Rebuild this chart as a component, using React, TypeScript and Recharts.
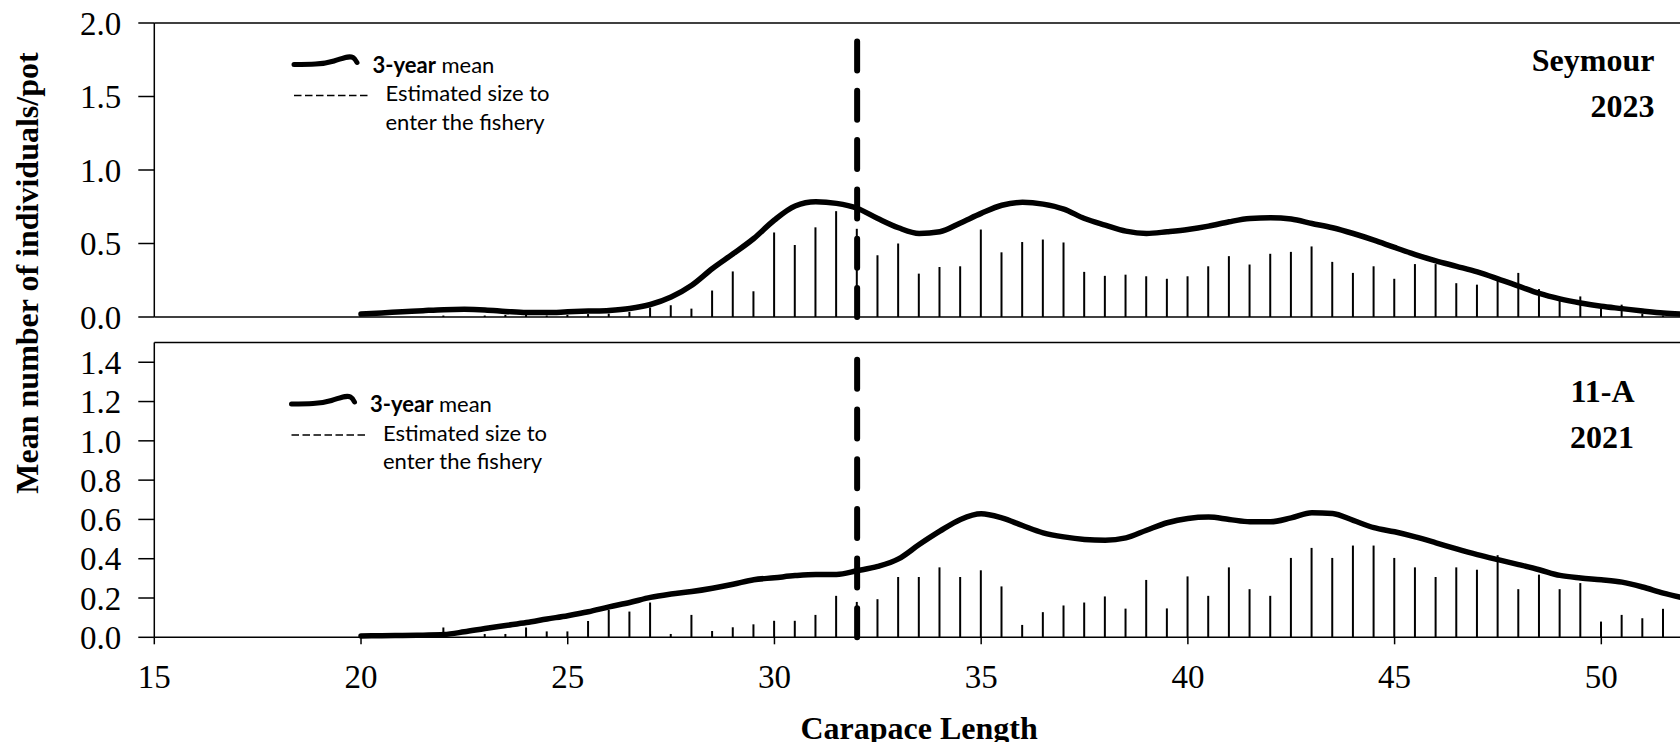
import {
  ComposedChart,
  Bar,
  Line,
  XAxis,
  YAxis,
  ReferenceLine,
} from "recharts";

// carapace length classes (mm), every 0.5
const lengths = [
  20, 20.5, 21, 21.5, 22, 22.5, 23, 23.5, 24, 24.5,
  25, 25.5, 26, 26.5, 27, 27.5, 28, 28.5, 29, 29.5,
  30, 30.5, 31, 31.5, 32, 32.5, 33, 33.5, 34, 34.5,
  35, 35.5, 36, 36.5, 37, 37.5, 38, 38.5, 39, 39.5,
  40, 40.5, 41, 41.5, 42, 42.5, 43, 43.5, 44, 44.5,
  45, 45.5, 46, 46.5, 47, 47.5, 48, 48.5, 49, 49.5,
  50, 50.5, 51, 51.5, 52,
];

const seymourCounts = [
  0, 0, 0, 0, 0.01, 0, 0.01, 0.015, 0.015, 0.01,
  0.015, 0.02, 0.023, 0.034, 0.064, 0.08, 0.057, 0.18, 0.31, 0.175,
  0.575, 0.49, 0.61, 0.72, 0.6, 0.42, 0.5, 0.295, 0.34, 0.345,
  0.595, 0.44, 0.51, 0.527, 0.507, 0.307, 0.28, 0.288, 0.277, 0.26,
  0.277, 0.345, 0.414, 0.357, 0.43, 0.443, 0.48, 0.375, 0.3, 0.345,
  0.26, 0.36, 0.36, 0.23, 0.22, 0.25, 0.3, 0.19, 0.12, 0.14,
  0.057, 0.084, 0.023, 0.01, 0,
];

const seymourMean = [
  0.02, 0.028, 0.035, 0.043, 0.05, 0.052, 0.048, 0.038, 0.03, 0.03,
  0.035, 0.04, 0.045, 0.058, 0.085, 0.136, 0.216, 0.33, 0.43, 0.534,
  0.66, 0.755, 0.784, 0.773, 0.74, 0.67, 0.607, 0.568, 0.58, 0.64,
  0.705, 0.76, 0.78, 0.768, 0.734, 0.67, 0.625, 0.584, 0.568, 0.58,
  0.595, 0.618, 0.648, 0.67, 0.675, 0.666, 0.636, 0.607, 0.568, 0.523,
  0.473, 0.425, 0.382, 0.345, 0.307, 0.26, 0.21, 0.16, 0.123, 0.095,
  0.073, 0.057, 0.041, 0.027, 0.02,
];

const areaCounts = [
  0, 0, 0, 0, 0.05, 0, 0.017, 0.017, 0.05, 0.03,
  0.03, 0.083, 0.14, 0.131, 0.177, 0.017, 0.114, 0.032, 0.051, 0.066,
  0.084, 0.084, 0.114, 0.211, 0.18, 0.194, 0.307, 0.307, 0.356, 0.307,
  0.341, 0.259, 0.063, 0.128, 0.162, 0.177, 0.208, 0.146, 0.292, 0.147,
  0.31, 0.211, 0.356, 0.245, 0.211, 0.404, 0.455, 0.404, 0.467, 0.467,
  0.404, 0.356, 0.307, 0.356, 0.344, 0.418, 0.245, 0.319, 0.245, 0.276,
  0.08, 0.114, 0.097, 0.145, 0.1,
];

const areaMean = [
  0.007, 0.008, 0.009, 0.011, 0.014, 0.028, 0.045, 0.06, 0.075, 0.093,
  0.11, 0.13, 0.155, 0.177, 0.203, 0.22, 0.233, 0.25, 0.27, 0.293,
  0.303, 0.314, 0.32, 0.32, 0.339, 0.361, 0.399, 0.472, 0.54, 0.6,
  0.629, 0.608, 0.569, 0.532, 0.511, 0.498, 0.494, 0.506, 0.545, 0.583,
  0.605, 0.612, 0.6, 0.588, 0.588, 0.608, 0.634, 0.63, 0.595, 0.558,
  0.537, 0.511, 0.481, 0.45, 0.421, 0.395, 0.37, 0.344, 0.315, 0.302,
  0.293, 0.281, 0.256, 0.225, 0.2,
];

const xTicks = [15, 20, 25, 30, 35, 40, 45, 50];
const seymourTicks = [0, 0.5, 1, 1.5, 2];
const areaTicks = [0, 0.2, 0.4, 0.6, 0.8, 1, 1.2, 1.4];
const fisherySize = 32;

const SERIF = '"Liberation Serif", "Times New Roman", serif';
const SANS = 'Lato, "Liberation Sans", sans-serif';

const seymourData = lengths.map((x, i) => ({ x, n: seymourCounts[i], mean: seymourMean[i] }));
const areaData = lengths.map((x, i) => ({ x, n: areaCounts[i], mean: areaMean[i] }));

const CHART_W = 1684;
const AXIS_W = 154.3;

const tickStyle = { fill: "#000", fontSize: 33, fontFamily: SERIF };

function Panel({
  data,
  height,
  top,
  yMax,
  yTicks,
  xHeight,
  showXLabels,
  dashTop,
  dashArray,
}: {
  data: any[];
  height: number;
  top: number;
  yMax: number;
  yTicks: number[];
  xHeight: number;
  showXLabels: boolean;
  dashTop: number;
  dashArray: string;
}) {
  return (
    <ComposedChart
      width={CHART_W}
      height={height}
      data={data}
      margin={{ top, right: 0, bottom: 0, left: 0 }}
    >
      <XAxis
        dataKey="x"
        type="number"
        domain={[15, 52]}
        ticks={xTicks}
        interval={0}
        height={xHeight}
        tickSize={7}
        tickMargin={20}
        tick={showXLabels ? tickStyle : false}
        axisLine={{ stroke: "#000", strokeWidth: 1.5 }}
        tickLine={{ stroke: "#000", strokeWidth: 1.5 }}
        label={
          showXLabels
            ? {
                value: "Carapace Length",
                position: "insideBottom",
                offset: 3,
                fill: "#000",
                fontSize: 32,
                fontWeight: "bold",
                fontFamily: SERIF,
              }
            : undefined
        }
      />
      <YAxis
        type="number"
        domain={[0, yMax]}
        ticks={yTicks}
        interval={0}
        width={AXIS_W}
        tickSize={16}
        tickMargin={17}
        tick={tickStyle}
        tickFormatter={(v: number) => v.toFixed(1)}
        axisLine={{ stroke: "#000", strokeWidth: 1.5 }}
        tickLine={{ stroke: "#000", strokeWidth: 1.5 }}
      />
      <ReferenceLine y={yMax} stroke="#000" strokeWidth={1.5} />
      <Bar dataKey="n" fill="#000" barSize={2} isAnimationActive={false} />
      <Line
        type="monotone"
        dataKey="mean"
        stroke="#000"
        strokeWidth={5.5}
        strokeLinecap="round"
        strokeLinejoin="round"
        dot={false}
        activeDot={false}
        isAnimationActive={false}
      />
      <ReferenceLine
        segment={[
          { x: fisherySize, y: 0 },
          { x: fisherySize, y: dashTop },
        ]}
        stroke="#000"
        strokeWidth={6}
        strokeDasharray={dashArray}
        strokeLinecap="round"
      />
    </ComposedChart>
  );
}

function LegendBlock({ x, y }: { x: number; y: number }) {
  // x, y = left end of the solid sample line
  return (
    <g>
      <path
        d={`M${x} ${y} C ${x + 16} ${y}, ${x + 28} ${y}, ${x + 40} ${y - 3.5} C ${x + 50} ${y - 6.5}, ${x + 55} ${y - 9}, ${x + 59} ${y - 7} C ${x + 61} ${y - 6}, ${x + 62} ${y - 4}, ${x + 63} ${y - 2}`}
        stroke="#000"
        strokeWidth={5}
        strokeLinecap="round"
        fill="none"
      />
      <text x={x + 78.5} y={y + 8} fontFamily={SANS} fontSize={22} fill="#000">
        <tspan fontWeight="bold">3-year</tspan>
        <tspan> mean</tspan>
      </text>
      <line
        x1={x}
        x2={x + 76}
        y1={y + 31}
        y2={y + 31}
        stroke="#000"
        strokeWidth={1.5}
        strokeDasharray="7.5 3.5"
      />
      <text x={x + 91.5} y={y + 36.5} fontFamily={SANS} fontSize={22} fill="#000">
        Estimated size to
      </text>
      <text x={x + 91.5} y={y + 65} fontFamily={SANS} fontSize={22} fill="#000">
        enter the fishery
      </text>
    </g>
  );
}

export default function App() {
  return (
    <div
      style={{
        position: "absolute",
        left: 0,
        top: 0,
        width: 1680,
        height: 742,
        overflow: "hidden",
        background: "#fff",
      }}
    >
      <div style={{ position: "absolute", left: 0, top: 0 }}>
        <Panel
          data={seymourData}
          height={345}
          top={23}
          yMax={2}
          yTicks={seymourTicks}
          xHeight={28}
          showXLabels={false}
          dashTop={1.876}
          dashArray="29 20.3"
        />
      </div>
      <div style={{ position: "absolute", left: 0, top: 330 }}>
        <Panel
          data={areaData}
          height={412}
          top={12.6}
          yMax={1.5}
          yTicks={areaTicks}
          xHeight={104.7}
          showXLabels={true}
          dashTop={1.413}
          dashArray="29 20.7"
        />
      </div>
      <svg
        width={1680}
        height={742}
        style={{ position: "absolute", left: 0, top: 0, pointerEvents: "none" }}
      >
        <text
          x={27}
          y={273}
          transform="rotate(-90 27 273)"
          textAnchor="middle"
          dominantBaseline="central"
          fontFamily={SERIF}
          fontWeight="bold"
          fontSize={32}
          fill="#000"
        >
          Mean number of individuals/pot
        </text>
        <LegendBlock x={294} y={64.5} />
        <LegendBlock x={291.5} y={404} />
        <g fontFamily={SERIF} fontWeight="bold" fontSize={32} fill="#000">
          <text x={1654.4} y={70.7} textAnchor="end">Seymour</text>
          <text x={1654.4} y={116.7} textAnchor="end">2023</text>
          <text x={1602.5} y={401.7} textAnchor="middle">11-A</text>
          <text x={1602} y={448.3} textAnchor="middle">2021</text>
        </g>
      </svg>
    </div>
  );
}
